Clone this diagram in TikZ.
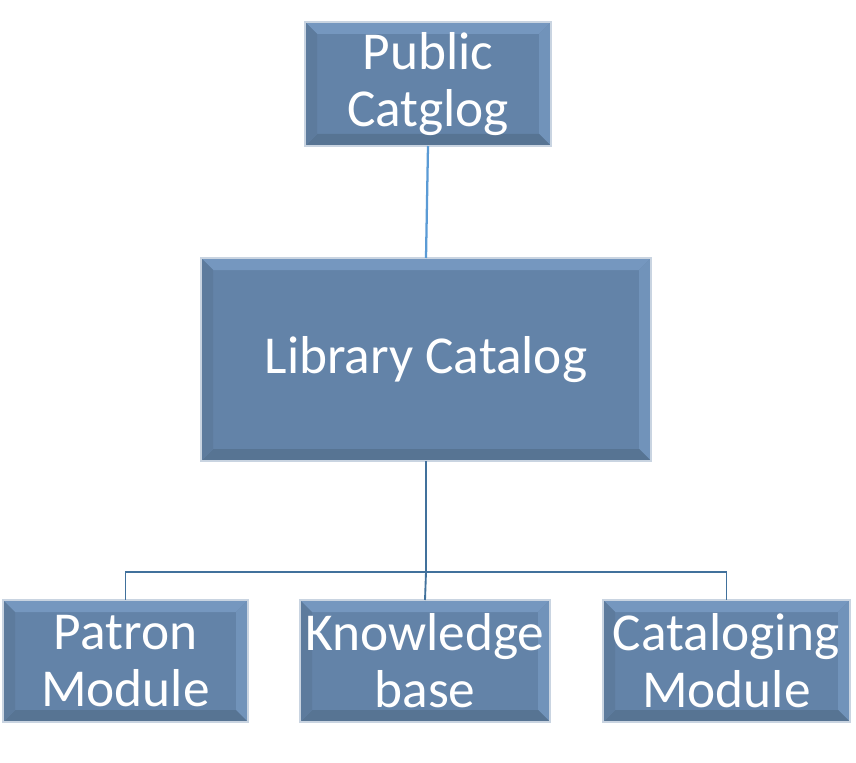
\documentclass[tikz,border=0pt]{standalone}
\usepackage{fontspec}
\setmainfont{Carlito}
\definecolor{slate}{HTML}{6383A8}
\definecolor{slatehi}{HTML}{7597BF}
\definecolor{slatelo}{HTML}{577493}
\definecolor{slateside}{HTML}{5D7B9D}
\definecolor{rim}{HTML}{C9D4E1}
\definecolor{skyline}{HTML}{5B9BD5}
\definecolor{navyline}{HTML}{41719C}
\tikzset{
  module/.style={draw=rim,line width=0.8pt,fill=slate,text=white,align=center,
    inner sep=0pt,outer sep=0pt,anchor=north west,
    font=\fontsize{40}{43}\selectfont,
    path picture={
      \fill[slatehi] (path picture bounding box.north west) -- (path picture bounding box.north east)
        -- ([xshift=-9pt,yshift=-9pt]path picture bounding box.north east) -- ([xshift=9pt,yshift=-9pt]path picture bounding box.north west) -- cycle;
      \fill[slatehi!80!slate] (path picture bounding box.north east) -- (path picture bounding box.south east)
        -- ([xshift=-9pt,yshift=9pt]path picture bounding box.south east) -- ([xshift=-9pt,yshift=-9pt]path picture bounding box.north east) -- cycle;
      \fill[slatelo] (path picture bounding box.south west) -- (path picture bounding box.south east)
        -- ([xshift=-9pt,yshift=9pt]path picture bounding box.south east) -- ([xshift=9pt,yshift=9pt]path picture bounding box.south west) -- cycle;
      \fill[slateside] (path picture bounding box.north west) -- (path picture bounding box.south west)
        -- ([xshift=9pt,yshift=9pt]path picture bounding box.south west) -- ([xshift=9pt,yshift=-9pt]path picture bounding box.north west) -- cycle;
    }},
  toplink/.style={draw=skyline,line width=1.7pt},
  treelink/.style={draw=navyline,line width=1.4pt}
}
\newcommand{\module}[6]{\node[module,minimum width={#4*0.75pt},minimum height={#5*0.75pt}] (#1) at (#2,#3) {#6};}

\begin{document}
\begin{tikzpicture}[x=0.75pt,y=-0.75pt]
\useasboundingbox (0,0) rectangle (856,763);
\module{pub}{305}{22}{246}{124}{Public\\Catglog}
\module{lib}{201}{258}{450}{203}{Library Catalog}
\module{patron}{3}{600}{245}{122}{Patron\\Module}
\module{know}{300}{600}{250}{122}{Knowledge\\base}
\module{catm}{603}{600}{247}{122}{Cataloging\\Module}
% connectors
\draw[toplink] (pub.south) -- (lib.north);
\draw[treelink] (lib.south) -- ++(0,111) coordinate (fork);
\draw[treelink] (fork) -| (patron.north);
\draw[treelink] (fork) -| (catm.north);
\draw[treelink] (fork) -- (know.north);
\end{tikzpicture}
\end{document}
